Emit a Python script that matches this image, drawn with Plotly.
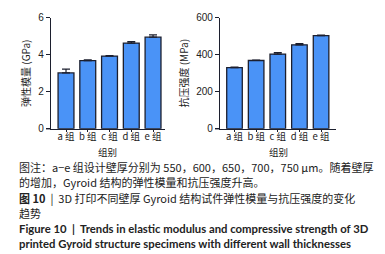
import plotly.graph_objects as go

categories = ["a 组", "b 组", "c 组", "d 组", "e 组"]
modulus = [3.02, 3.68, 3.93, 4.63, 4.95]
modulus_err = [0.2, 0.04, 0.02, 0.08, 0.13]
strength = [331, 369, 404, 454, 504]
strength_err = [3, 2, 8, 6, 2]
y1_ticks = [0, 2, 4, 6]
y2_ticks = [0, 200, 400, 600]

W, H = 385, 254
bar_color = "#4a93f7"
edge = "#1c1f2e"
font_cjk = "Noto Sans CJK SC, Liberation Sans, Arial, sans-serif"

fig = go.Figure()
fig.add_trace(go.Bar(x=categories, y=modulus, xaxis="x", yaxis="y",
                     marker=dict(color=bar_color, line=dict(color=edge, width=1.3)),
                     width=0.73,
                     error_y=dict(type="data", array=modulus_err, symmetric=False,
                                  arrayminus=[0]*5, color=edge, thickness=1.2, width=4)))
fig.add_trace(go.Bar(x=categories, y=strength, xaxis="x2", yaxis="y2",
                     marker=dict(color=bar_color, line=dict(color=edge, width=1.3)),
                     width=0.72,
                     error_y=dict(type="data", array=strength_err, symmetric=False,
                                  arrayminus=[0]*5, color=edge, thickness=1.2, width=4)))

axfont = dict(family=font_cjk, size=9.5, color="#222")
common_x = dict(showline=True, linecolor=edge, linewidth=1.3, ticks="outside", ticklen=2,
                tickcolor=edge, tickfont=axfont, showgrid=False, zeroline=False,
                ticklabelstandoff=-3)
common_y = dict(showline=True, linecolor=edge, linewidth=1.3, ticks="outside", ticklen=4,
                tickcolor=edge, tickfont=dict(family="Liberation Sans, Arial", size=10, color="#222"),
                showgrid=False, zeroline=False, ticklabeloverflow="allow")

fig.update_layout(
    width=W, height=H, margin=dict(l=0, r=0, t=0, b=0),
    paper_bgcolor="white", plot_bgcolor="white", showlegend=False,
    xaxis=dict(domain=[43/W, 157/W], range=[-0.69, 4.55], anchor="y", **common_x),
    yaxis=dict(domain=[1-121/H, 1-5/H], range=[0, 6.0001], tickvals=y1_ticks, anchor="x",
               title=dict(text="弹性模量 (GPa)", font=dict(family=font_cjk, size=10, color="#222"), standoff=5),
               **common_y),
    xaxis2=dict(domain=[212/W, 328/W], range=[-0.67, 4.69], anchor="y2", **common_x),
    yaxis2=dict(domain=[1-121/H, 1-5/H], range=[0, 600.01], tickvals=y2_ticks, anchor="x2",
                title=dict(text="抗压强度 (MPa)", font=dict(family=font_cjk, size=10, color="#222"), standoff=5),
                **common_y),
)

# x axis titles
for xc in (100, 270):
    fig.add_annotation(xref="paper", yref="paper", x=xc/W, y=1-145/H, text="组别", showarrow=False,
                       xanchor="center", yanchor="middle", borderpad=0,
                       font=dict(family=font_cjk, size=9.5, color="#222"))

# small extension of the x axis line to the left of the y axis (offset axes style)
for x0 in (38, 207):
    fig.add_shape(type="line", xref="paper", yref="paper", x0=x0/W, x1=(x0+5)/W,
                  y0=1-121/H, y1=1-121/H, line=dict(color=edge, width=1.3))

lines = [
    (161, "图注：a−e 组设计壁厚分别为 550，600，650，700，750 μm。随着壁厚", False),
    (177, "的增加，Gyroid 结构的弹性模量和抗压强度升高。", False),
    (193, "<b>图 10</b>  |  3D 打印不同壁厚 Gyroid 结构试件弹性模量与抗压强度的变化", False),
    (209, "趋势", False),
    (225, "<b>Figure 10  |  Trends in elastic modulus and compressive strength of 3D</b>", True),
    (241, "<b>printed Gyroid structure specimens with different wall thicknesses</b>", True),
]
for y, txt, en in lines:
    fig.add_annotation(xref="paper", yref="paper", x=10/W, y=1-y/H, xanchor="left", yanchor="middle",
                       text=txt, showarrow=False, borderpad=0,
                       font=dict(family=("Lato, Liberation Sans, Arial" if en else font_cjk),
                                 size=(11.3 if en else 11.0), color="#222"))

fig.write_html("out.html")
